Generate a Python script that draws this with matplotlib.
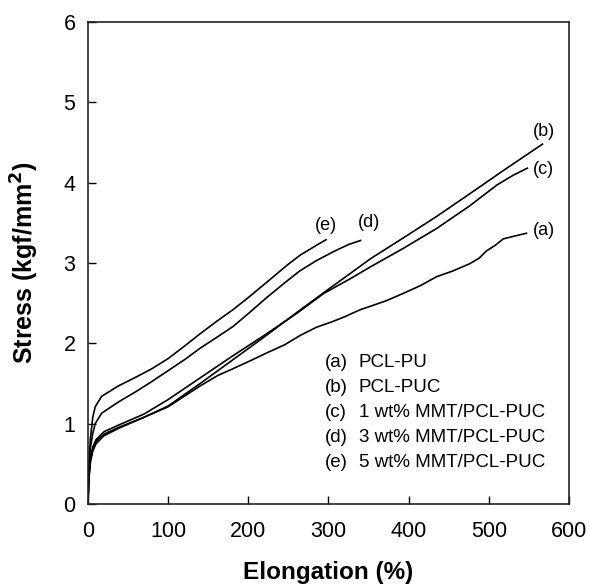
import numpy as np
import matplotlib
matplotlib.use("Agg")
import matplotlib.pyplot as plt

plt.rcParams['font.family'] = ['Liberation Sans', 'DejaVu Sans']

# stress-strain curves (elongation %, stress kgf/mm2)
xa = [0, 1, 3, 6, 10, 20, 40, 70, 100, 140, 162, 180, 204, 225, 245, 265, 285, 305, 320, 340,
      352, 372, 393, 415, 435, 455, 476, 488, 497, 508, 518, 530, 547]
ya = [0, 0.30, 0.52, 0.66, 0.75, 0.85, 0.95, 1.08, 1.21, 1.47, 1.60, 1.68, 1.79, 1.89, 1.98,
      2.10, 2.20, 2.27, 2.33, 2.42, 2.46, 2.53, 2.62, 2.72, 2.83, 2.90, 2.99, 3.06, 3.15, 3.22,
      3.30, 3.33, 3.37]

xb = [0, 1, 3, 6, 10, 20, 40, 70, 100, 140, 180, 220, 260, 294, 330, 352, 393, 435, 476, 518, 567]
yb = [0, 0.32, 0.55, 0.69, 0.78, 0.87, 0.96, 1.08, 1.22, 1.50, 1.79, 2.08, 2.38, 2.63, 2.89,
      3.05, 3.31, 3.58, 3.86, 4.15, 4.48]

xc = [0, 1, 3, 6, 10, 20, 40, 70, 100, 140, 180, 220, 260, 294, 330, 352, 393, 435, 476, 510, 530, 548]
yc = [0, 0.33, 0.57, 0.71, 0.80, 0.90, 0.99, 1.12, 1.30, 1.57, 1.84, 2.10, 2.37, 2.62, 2.82,
      2.95, 3.18, 3.43, 3.71, 3.97, 4.09, 4.18]

xd = [0, 1, 3, 6, 9, 17, 38, 60, 79, 100, 121, 140, 160, 181, 200, 223, 245, 264, 285, 306, 325, 340]
yd = [0, 0.40, 0.70, 0.88, 1.00, 1.13, 1.27, 1.40, 1.52, 1.66, 1.80, 1.94, 2.07, 2.21, 2.37,
      2.57, 2.75, 2.90, 3.03, 3.14, 3.23, 3.28]

xe = [0, 1, 3, 6, 9, 17, 38, 60, 79, 100, 121, 140, 160, 181, 200, 223, 248, 265, 285, 297]
ye = [0, 0.45, 0.82, 1.08, 1.21, 1.34, 1.47, 1.58, 1.68, 1.81, 1.97, 2.12, 2.27, 2.42, 2.57,
      2.76, 2.97, 3.10, 3.22, 3.29]

curves = [(xa, ya), (xb, yb), (xc, yc), (xd, yd), (xe, ye)]
tags = ['(a)', '(b)', '(c)', '(d)', '(e)']
tag_pos = [(555, 3.41), (555, 4.64), (555, 4.16), (337, 3.50), (283, 3.47)]
legend_names = ['PCL-PU', 'PCL-PUC', '1 wt% MMT/PCL-PUC', '3 wt% MMT/PCL-PUC', '5 wt% MMT/PCL-PUC']

fig = plt.figure(figsize=(5.89, 5.88), dpi=100)
ax = fig.add_axes([0.1494, 0.1429, 0.8166, 0.8197])

for x, y in curves:
    ax.plot(x, y, color='black', lw=1.2)

for t, (tx, ty) in zip(tags, tag_pos):
    ax.text(tx, ty, t, fontsize=13, ha='left', va='center')

for i, (t, name) in enumerate(zip(tags, legend_names)):
    yy = 1.755 - i * 0.311
    ax.text(295.6, yy, t, fontsize=13.5, va='center')
    ax.text(338, yy, name, fontsize=13.5, va='center')

ax.set_xlim(0, 600)
ax.set_ylim(0, 6)
ax.set_xticks([0, 100, 200, 300, 400, 500, 600])
ax.set_yticks([0, 1, 2, 3, 4, 5, 6])
ax.tick_params(direction='in', length=6, width=1.0, labelsize=15.5)
ax.tick_params(axis='x', pad=12)
ax.tick_params(axis='y', pad=9)
for s in ax.spines.values():
    s.set_linewidth(1.2)
    s.set_color('#222222')

ax.set_xlabel('Elongation (%)', fontsize=17.5, fontweight='bold', va='top')
ax.xaxis.set_label_coords(0.5, -0.118)
ax.set_ylabel('Stress (kgf/mm$\\mathbf{^2}$)', fontsize=18, fontweight='bold')
ax.yaxis.set_label_coords(-0.098, 0.5)

fig.savefig('out.png', dpi=100)
